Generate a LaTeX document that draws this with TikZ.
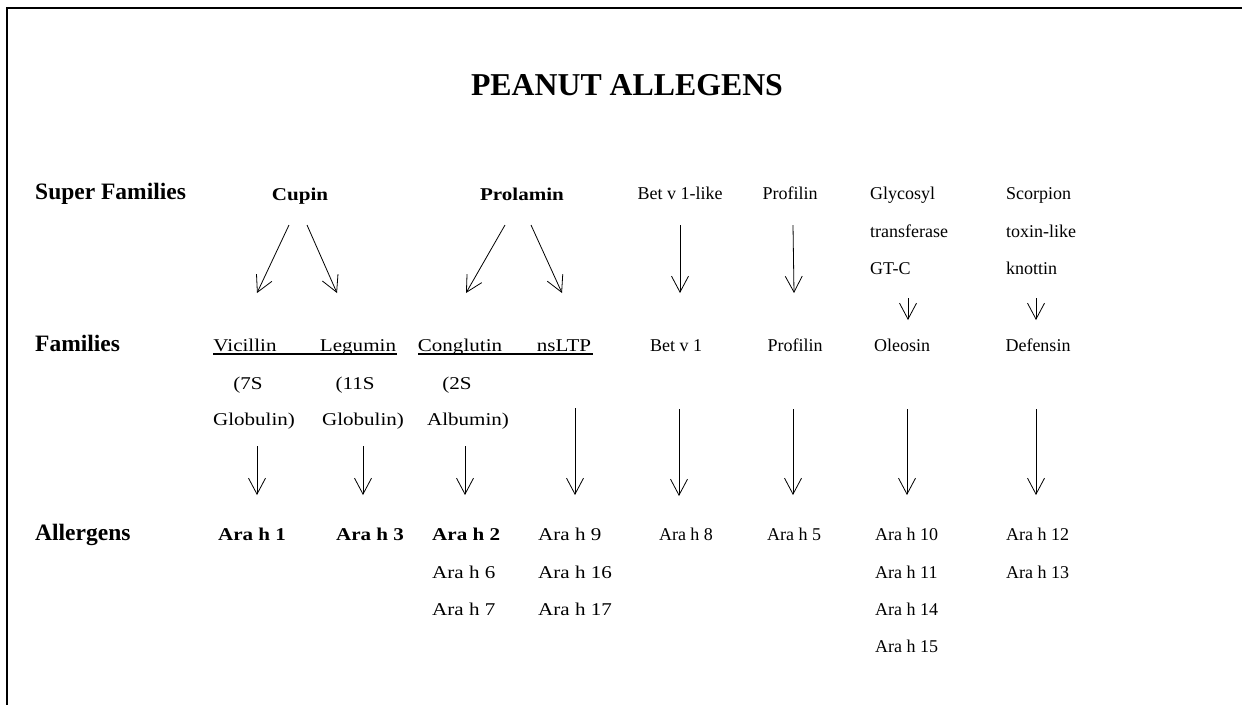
\documentclass[tikz,border=0pt]{standalone}
\usepackage{fontspec}
\setmainfont{Liberation Serif}
\usetikzlibrary{arrows.meta}
\newcommand\stretchtxt[1]{\scalebox{1.17}[1]{#1}}
\begin{document}
\begin{tikzpicture}[x=1pt,y=-1pt,
  txt/.style={inner sep=0pt, anchor=base, font=\fontsize{18}{22}\selectfont},
  txtl/.style={txt, anchor=base west},
  bld/.style={inner sep=0pt, anchor=base, font=\fontsize{18}{22}\selectfont\bfseries},
  rowlab/.style={inner sep=0pt, anchor=base west, font=\fontsize{23.5}{28}\selectfont\bfseries},
  titlestyle/.style={inner sep=0pt, anchor=base, font=\fontsize{31.8}{36}\selectfont\bfseries},
  arr/.style={line width=0.8pt, -{Straight Barb[length=16pt,width=17pt]}},
  uline/.style={line width=1.4pt},
  framestyle/.style={line width=2pt}]
\useasboundingbox (0,0) rectangle (1242,705);
% frame
\coordinate (frTR) at (1242,7.5);
\coordinate (frTL) at (7,7.5);
\coordinate (frBL) at (7,705);
\draw[framestyle] (frTR) -- (frTL) -- (frBL);

\node[titlestyle] (title) at (627,95) {PEANUT ALLEGENS};

% row labels
\node[rowlab] (lsuper) at (35,199) {Super Families};
\node[rowlab] (lfam) at (35,351) {Families};
\node[rowlab] (lall) at (35,540) {Allergens};

% super families
\node[bld] (cupin) at (300,200) {\stretchtxt{Cupin}};
\node[bld] (prolamin) at (522,200) {\stretchtxt{Prolamin}};
\node[txt] (betlike) at (680,199) {Bet v 1-like};
\node[txt] (profS) at (790,199) {Profilin};
\node[txtl] (glyc1) at (870,199) {Glycosyl};
\node[txtl] (glyc2) at (870,237) {transferase};
\node[txtl] (glyc3) at (870,274) {GT-C};
\node[txtl] (scor1) at (1006,199) {Scorpion};
\node[txtl] (scor2) at (1006,237) {toxin-like};
\node[txtl] (scor3) at (1006,274) {knottin};

% families
\node[txt] (vic) at (245,351) {\stretchtxt{Vicillin}};
\node[txt] (leg) at (358,351) {\stretchtxt{Legumin}};
\node[txt] (cong) at (460,351) {\stretchtxt{Conglutin}};
\node[txt] (nsltp) at (564,351) {\stretchtxt{nsLTP}};
\node[txt] (betv) at (676,351) {Bet v 1};
\node[txt] (profF) at (795,351) {Profilin};
\node[txt] (oleo) at (902,351) {Oleosin};
\node[txt] (def) at (1038,351) {Defensin};
\node[txt] (vicA) at (248,389) {\stretchtxt{(7S}};
\node[txt] (vicB) at (254,425) {\stretchtxt{Globulin)}};
\node[txt] (legA) at (355,389) {\stretchtxt{(11S}};
\node[txt] (legB) at (363,425) {\stretchtxt{Globulin)}};
\node[txt] (congA) at (457,389) {\stretchtxt{(2S}};
\node[txt] (congB) at (468,425) {\stretchtxt{Albumin)}};

% underlines
\coordinate (u1a) at (213,354);
\coordinate (u1b) at (397,354);
\coordinate (u2a) at (418,354);
\coordinate (u2b) at (593,354);
\draw[uline] (u1a) -- (u1b);
\draw[uline] (u2a) -- (u2b);

% allergens
\node[bld] (a1) at (252,540) {\stretchtxt{Ara h 1}};
\node[bld] (a3) at (370,540) {\stretchtxt{Ara h 3}};
\node[bld, anchor=base west] (a2) at (432,540) {\stretchtxt{Ara h 2}};
\node[txtl] (a6) at (432,578) {\stretchtxt{Ara h 6}};
\node[txtl] (a7) at (432,615) {\stretchtxt{Ara h 7}};
\node[txtl] (a9) at (538,540) {\stretchtxt{Ara h 9}};
\node[txtl] (a16) at (538,578) {\stretchtxt{Ara h 16}};
\node[txtl] (a17) at (538,615) {\stretchtxt{Ara h 17}};
\node[txt] (a8) at (686,540) {Ara h 8};
\node[txt] (a5) at (794,540) {Ara h 5};
\node[txtl] (a10) at (875,540) {Ara h 10};
\node[txtl] (a11) at (875,578) {Ara h 11};
\node[txtl] (a14) at (875,615) {Ara h 14};
\node[txtl] (a15) at (875,652) {Ara h 15};
\node[txtl] (a12) at (1006,540) {Ara h 12};
\node[txtl] (a13) at (1006,578) {Ara h 13};

% arrow end points: super -> family
\coordinate (cupL0) at (289,225); \coordinate (cupL1) at (257,293);
\coordinate (cupR0) at (307,225); \coordinate (cupR1) at (337,293);
\coordinate (proL0) at (505,225); \coordinate (proL1) at (466,293);
\coordinate (proR0) at (531,225); \coordinate (proR1) at (562,293);
\coordinate (bet0) at (680,225); \coordinate (bet1) at (680,293);
\coordinate (prf0) at (793,225); \coordinate (prf1) at (794,293);
\coordinate (gly0) at (908,298); \coordinate (gly1) at (908,320);
\coordinate (sco0) at (1036,298); \coordinate (sco1) at (1036,320);
\draw[arr] (cupL0) -- (cupL1);
\draw[arr] (cupR0) -- (cupR1);
\draw[arr] (proL0) -- (proL1);
\draw[arr] (proR0) -- (proR1);
\draw[arr] (bet0) -- (bet1);
\draw[arr] (prf0) -- (prf1);
\draw[arr] (gly0) -- (gly1);
\draw[arr] (sco0) -- (sco1);

% family -> allergen
\coordinate (vicA0) at (257,446); \coordinate (vicA1) at (257,495);
\coordinate (legA0) at (363,446); \coordinate (legA1) at (363,495);
\coordinate (conA0) at (465,446); \coordinate (conA1) at (465,495);
\coordinate (nsA0) at (575,408); \coordinate (nsA1) at (575,495);
\coordinate (betA0) at (679,409); \coordinate (betA1) at (679,496);
\coordinate (prfA0) at (793,409); \coordinate (prfA1) at (793,495);
\coordinate (oleA0) at (907,409); \coordinate (oleA1) at (907,495);
\coordinate (defA0) at (1036,409); \coordinate (defA1) at (1036,495);
\draw[arr] (vicA0) -- (vicA1);
\draw[arr] (legA0) -- (legA1);
\draw[arr] (conA0) -- (conA1);
\draw[arr] (nsA0) -- (nsA1);
\draw[arr] (betA0) -- (betA1);
\draw[arr] (prfA0) -- (prfA1);
\draw[arr] (oleA0) -- (oleA1);
\draw[arr] (defA0) -- (defA1);
\end{tikzpicture}
\end{document}
